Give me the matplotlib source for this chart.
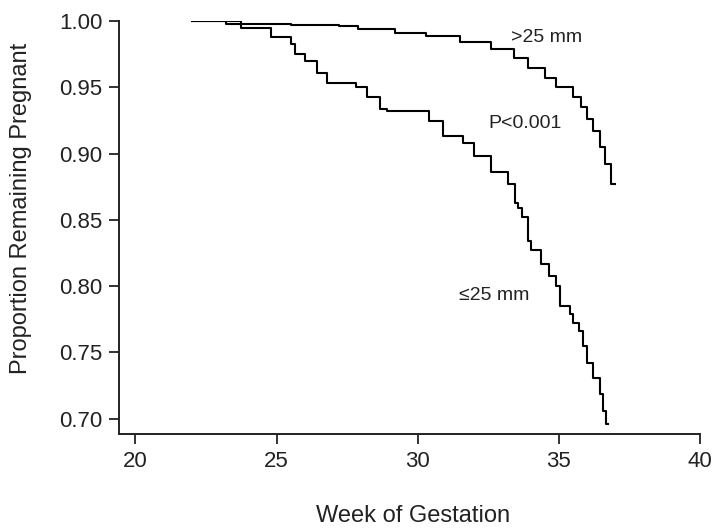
import matplotlib
matplotlib.use("Agg")
import matplotlib.pyplot as plt

# Kaplan-Meier style survival curves (week, proportion remaining pregnant)
upper_weeks = [22.0, 23.2, 25.5, 27.2, 27.9, 29.2, 30.3, 31.5, 32.6, 33.4, 33.9,
               34.5, 34.9, 35.5, 35.8, 36.0, 36.2, 36.45, 36.65, 36.85, 37.0]
upper_prop = [1.0, 0.998, 0.997, 0.996, 0.994, 0.991, 0.989, 0.984, 0.979, 0.972, 0.965,
              0.957, 0.950, 0.943, 0.935, 0.926, 0.917, 0.905, 0.892, 0.877, 0.877]

lower_weeks = [22.0, 23.75, 24.8, 25.5, 25.65, 26.0, 26.45, 26.8, 27.8, 28.2, 28.65,
               28.9, 30.4, 30.9, 31.6, 32.0, 32.6, 33.2, 33.45, 33.55, 33.7, 33.9,
               34.0, 34.35, 34.65, 34.9, 35.05, 35.4, 35.5, 35.7, 35.85, 36.0, 36.2,
               36.45, 36.55, 36.68, 36.75]
lower_prop = [1.0, 0.9945, 0.988, 0.983, 0.975, 0.970, 0.961, 0.953, 0.950, 0.943, 0.934,
              0.932, 0.925, 0.913, 0.908, 0.898, 0.886, 0.877, 0.863, 0.859, 0.852, 0.834,
              0.827, 0.817, 0.808, 0.800, 0.785, 0.779, 0.772, 0.766, 0.755, 0.742, 0.731,
              0.719, 0.706, 0.696, 0.696]

x_ticks = [20, 25, 30, 35, 40]
y_ticks = [0.70, 0.75, 0.80, 0.85, 0.90, 0.95, 1.00]

labels = [">25 mm", "P<0.001", "\u226425 mm"]
label_pos = [(33.3, 0.988), (32.5, 0.923), (31.45, 0.793)]

plt.rcParams['font.family'] = ['Liberation Sans', 'DejaVu Sans']

fig = plt.figure(figsize=(7.13, 5.29), dpi=100)
ax = fig.add_axes([0.1669, 0.1796, 0.9818 - 0.1669, 0.960 - 0.1796])

ax.plot(upper_weeks, upper_prop, drawstyle='steps-post', color='black', lw=1.5)
ax.plot(lower_weeks, lower_prop, drawstyle='steps-post', color='black', lw=1.5)

for txt, (x, y) in zip(labels, label_pos):
    ax.text(x, y, txt, fontsize=14, ha='left', va='center', color='#222222')

ax.set_xlim(19.42, 40)
ax.set_ylim(0.6885, 1.0)
ax.set_xticks(x_ticks)
ax.set_xticklabels([str(t) for t in x_ticks])
ax.set_yticks(y_ticks)
ax.set_yticklabels([f"{t:.2f}" for t in y_ticks])

for s in ['top', 'right']:
    ax.spines[s].set_visible(False)
for s in ['left', 'bottom']:
    ax.spines[s].set_linewidth(1.4)
    ax.spines[s].set_color('#222222')

ax.tick_params(axis='both', direction='out', length=7, width=1.3,
               labelsize=16, colors='#222222', pad=5)

ax.set_xlabel("Week of Gestation", fontsize=17, color='#222222')
ax.set_ylabel("Proportion Remaining Pregnant", fontsize=17, color='#222222')
ax.xaxis.set_label_coords(0.506, -0.172)
ax.yaxis.set_label_coords(-0.150, 0.547)

fig.savefig("out.png", dpi=100)
